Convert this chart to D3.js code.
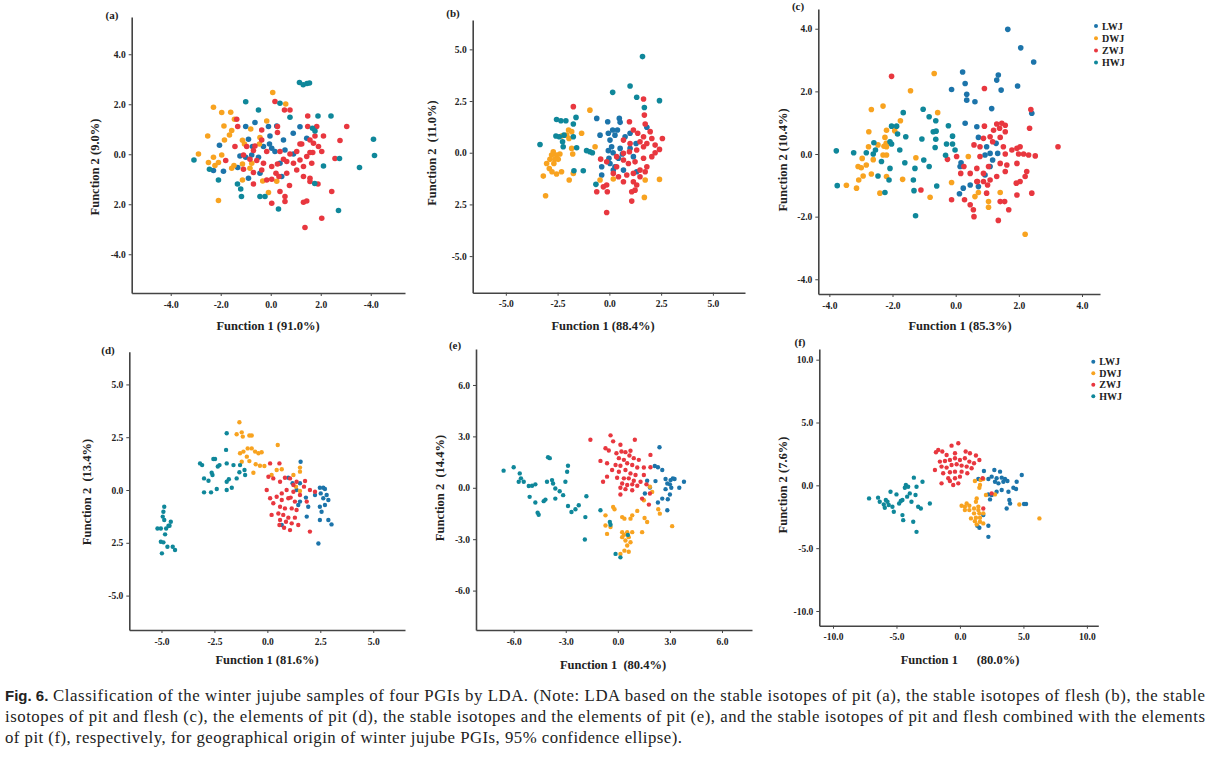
<!DOCTYPE html>
<html>
<head>
<meta charset="utf-8">
<script src="https://cdn.jsdelivr.net/npm/d3@7"></script>
<style>
  body { margin: 0; background: #fff; }
  svg text { fill: #222; }
</style>
</head>
<body>
<svg id="fig" width="1213" height="760"></svg>
<script>
// groups, legend order
var groups = ['LWJ', 'DWJ', 'ZWJ', 'HWJ']
var colors = {LWJ: '#1c74aa', DWJ: '#f8a320', ZWJ: '#e8373f', HWJ: '#0f879a'}

// ---- (a) stable isotopes of pit ----
var a_LWJ = [[-2.05,0.36],[-2.29,-0.65],[-1.89,-0.68],[-1.0,1.11],[-0.63,1.27],[-0.89,0.6],[-0.73,0.31],[-1.23,-0.07],[-1.0,-0.12],[-0.76,-0.03],[-0.49,-0.12],[-0.29,0.31],[-0.05,0.41],[0.04,0.24],[-0.03,0.73],[0.24,1.13],[-0.09,1.11],[0.51,0.57],[0.17,0.11],[0.37,-0.36],[0.57,0.17],[0.44,-0.89],[0.91,0.01],[-0.89,-0.96],[-1.32,-0.53],[-0.43,-0.76],[1.17,1.1],[0.9,0.84],[1.44,0.64]]
var a_DWJ = [[0.08,2.47],[0.6,2.01],[-2.29,1.88],[-1.96,1.67],[-1.6,1.68],[-1.45,1.4],[-1.87,1.13],[-2.52,0.73],[-1.56,0.95],[-1.65,0.77],[-0.8,1.01],[-0.43,0.67],[-0.16,1.33],[-0.45,0.41],[-1.85,0.57],[-1.13,0.56],[-1.05,0.41],[-2.89,0.01],[-2.29,-0.12],[-2.49,-0.33],[-2.09,-0.33],[-1.96,-0.03],[-2.23,-0.45],[-1.47,-0.45],[-1.13,-0.39],[-0.76,-0.36],[-2.09,-1.85],[-1.13,-1.03],[-0.32,-1.07],[-0.09,-1.53],[0.24,-1.08],[-1.56,-0.56],[-0.83,-0.56]]
var a_ZWJ = [[0.17,2.11],[0.55,1.77],[0.77,1.77],[1.48,1.53],[3.04,1.11],[1.84,1.11],[1.48,1.11],[1.77,0.73],[-1.36,1.4],[-1.32,1.11],[-0.36,0.97],[0.27,1.11],[0.27,0.87],[1.24,0.41],[1.57,0.57],[1.71,0.44],[2.04,0.11],[1.68,0.07],[1.04,0.11],[0.77,0.01],[0.51,-0.2],[0.37,0.11],[-0.16,0.11],[-0.36,0.57],[-0.63,0.33],[-0.69,0.15],[-0.96,0.31],[-1.43,0.31],[-1.09,-0.03],[-0.83,-0.2],[-0.56,-0.25],[-0.29,-0.36],[0.04,-0.49],[0.27,-0.39],[0.64,-0.29],[0.91,-0.36],[1.17,-0.23],[1.44,-0.09],[1.64,-0.36],[1.31,-0.49],[1.04,-0.63],[0.64,-0.76],[0.33,-0.89],[0.04,-1.0],[-0.16,-1.03],[0.21,-0.76],[-0.36,-0.63],[-0.69,-0.73],[-1.09,-0.6],[-1.8,-0.25],[-0.69,-1.19],[0.04,-1.96],[0.37,-1.49],[0.57,-1.69],[0.57,-1.89],[0.75,-1.25],[1.31,-0.89],[1.57,-0.96],[1.57,-1.09],[1.89,-1.19],[1.31,-1.92],[1.44,-1.87],[2.04,-2.56],[1.37,-2.93],[2.44,-1.49],[2.57,-0.17],[2.77,0.55],[2.11,0.73],[1.91,0.31],[1.57,0.07],[1.17,0.41]]
var a_HWJ = [[1.15,2.87],[1.3,2.78],[1.45,2.83],[1.55,2.85],[-1.0,2.1],[-0.49,1.77],[0.37,2.04],[0.77,1.48],[1.89,1.53],[2.41,1.53],[1.67,1.04],[1.77,0.93],[4.11,0.6],[4.15,-0.05],[3.55,-0.53],[2.75,-0.17],[2.11,-0.47],[2.71,-2.25],[1.76,-1.17],[0.31,-2.19],[-0.23,-1.69],[-0.43,-1.69],[-1.17,-1.69],[-1.33,-1.19],[-1.2,-1.39],[-2.09,-1.03],[-2.45,-0.6],[-3.07,-0.23]]

// ---- (b) stable isotopes of flesh ----
var b_LWJ = [[-0.61,1.66],[-0.08,1.5],[0.48,1.66],[0.52,1.47],[1.81,1.23],[-0.45,0.85],[-0.05,0.94],[0.16,1.1],[0.39,1.1],[0.27,0.85],[0.76,0.77],[1.0,0.94],[0.03,0.61],[0.11,0.29],[-0.05,0.1],[0.18,0.0],[0.52,0.21],[0.63,-0.06],[0.44,-0.27],[-0.02,-0.27],[0.03,-0.52],[0.27,-0.68],[0.19,-0.84],[-0.37,-0.68],[-0.37,-1.08],[0.68,-0.84],[1.29,0.45],[1.16,-0.19],[1.32,-0.92],[1.0,0.21]]
var b_DWJ = [[-0.94,2.06],[-1.97,1.1],[-1.82,1.02],[-1.34,0.94],[-2.06,0.85],[-1.95,0.69],[-2.31,0.81],[-2.71,0.05],[-2.55,-0.11],[-2.79,-0.11],[-2.63,-0.32],[-2.47,-0.32],[-2.87,-0.32],[-2.68,-0.52],[-3.03,-0.52],[-2.39,-0.06],[-1.77,-0.06],[-1.82,0.21],[-3.19,-1.13],[-2.9,-0.76],[-2.77,-0.92],[-2.55,-1.03],[-2.31,-0.92],[-1.94,-1.32],[-1.74,-1.0],[-3.08,-2.08],[-0.69,0.29],[-0.45,-1.32],[0.19,-1.27],[1.73,-1.32],[2.42,-1.29],[1.69,-2.16]]
var b_ZWJ = [[-1.74,2.23],[1.65,2.6],[0.97,1.5],[1.69,1.82],[1.73,1.39],[1.97,1.02],[1.16,1.1],[1.37,0.94],[1.65,0.77],[2.05,0.69],[2.56,0.69],[0.68,0.61],[1.0,0.45],[1.48,0.53],[1.81,0.45],[2.21,0.37],[2.42,0.16],[1.65,0.29],[1.32,0.13],[0.97,0.05],[0.68,-0.03],[0.35,-0.19],[-0.42,-0.31],[-0.13,-0.44],[0.68,-0.35],[0.92,-0.52],[1.24,-0.44],[1.65,-0.27],[2.05,-0.19],[2.21,0.0],[1.81,-0.68],[1.48,-0.84],[1.16,-1.0],[0.84,-1.08],[0.44,-1.16],[0.68,-1.4],[1.48,-1.16],[1.73,-0.92],[1.16,-1.4],[1.32,-1.56],[1.08,-1.89],[1.24,-1.81],[1.08,-2.34],[-0.13,-1.56],[-0.29,-1.65],[-0.61,-1.89],[-0.1,-1.89],[-0.13,-2.89],[0.19,-1.0],[0.35,-0.68]]
var b_HWJ = [[1.6,4.65],[1.0,3.23],[0.16,2.92],[1.32,2.68],[2.42,2.52],[1.69,2.19],[-2.55,1.61],[-2.34,1.55],[-2.1,1.55],[-1.61,1.71],[-1.74,1.39],[-2.58,0.81],[-2.42,0.77],[-2.19,0.85],[-1.74,0.77],[-2.26,0.53],[-2.23,0.29],[-3.35,0.4],[-1.58,0.24],[-1.1,0.1],[-0.94,0.05],[-0.82,0.0],[-1.71,-0.87],[-1.26,-0.87],[-0.65,-1.53]]

// ---- (c) stable isotopes of pit and flesh ----
var c_LWJ = [[1.65,3.98],[2.06,3.39],[2.47,2.94],[0.22,2.62],[1.35,2.52],[1.3,2.36],[1.44,2.04],[1.96,2.17],[0.3,2.25],[-0.13,2.06],[0.35,1.91],[0.35,1.72],[0.61,1.67],[1.14,1.45],[2.41,1.3],[0.3,0.98],[0.17,-0.28],[0.14,-0.4],[0.12,-1.27],[0.24,-1.09],[0.46,-0.99],[0.72,0.53],[0.98,0.23],[1.09,0.02],[0.93,-0.03],[1.33,0.02],[1.17,-0.19],[1.09,-0.4],[1.28,0.34],[0.93,-0.67],[0.72,-1.04],[0.67,0.87]]
var c_DWJ = [[-0.68,2.57],[-1.43,2.02],[-2.3,1.53],[-2.67,1.42],[-1.75,1.06],[-0.57,1.32],[-2.75,0.71],[-2.19,0.76],[-1.93,0.74],[-2.24,0.53],[-2.2,0.34],[-2.27,0.25],[-2.19,0.23],[-2.76,0.23],[-2.46,0.29],[-2.3,-0.03],[-2.19,-0.03],[-2.96,-0.14],[-2.83,-0.35],[-3.09,-0.4],[-2.99,-0.44],[-2.93,-0.7],[-3.07,-0.83],[-2.67,-0.64],[-2.19,-0.72],[-2.4,-1.25],[-3.14,-1.09],[-3.46,-1.0],[-2.61,-0.18],[-1.68,-0.81],[-1.26,-0.12],[-0.81,-1.38],[-0.13,-0.91],[0.4,-0.08],[0.61,-1.36],[0.72,-1.23],[1.04,-1.52],[1.04,-1.7],[1.41,-1.23],[2.2,-2.56]]
var c_ZWJ = [[-2.03,2.48],[0.91,2.09],[2.38,1.42],[2.34,0.82],[3.24,0.23],[0.91,0.89],[1.3,0.96],[1.46,0.98],[1.57,0.92],[1.39,0.82],[1.57,0.71],[1.2,0.76],[1.09,0.55],[0.88,0.5],[0.58,0.29],[0.77,0.23],[1.17,0.39],[1.41,0.53],[1.51,0.23],[1.78,0.13],[1.94,0.18],[2.04,0.23],[2.15,0.0],[2.31,-0.03],[2.52,-0.06],[1.99,0.0],[1.57,0.0],[1.41,-0.3],[1.62,-0.35],[1.94,-0.3],[2.25,-0.56],[2.2,-0.72],[2.04,-0.88],[1.92,-0.93],[1.57,-0.56],[1.3,-0.72],[1.09,-0.83],[0.88,-0.62],[0.67,-0.46],[0.46,-0.62],[0.16,-0.62],[0.26,-0.4],[0.03,-0.08],[-0.26,-0.17],[-0.13,-1.46],[0.28,-1.46],[0.46,-1.62],[0.56,-1.78],[0.58,-2.0],[0.67,-0.88],[0.88,-0.88],[0.98,-1.25],[1.41,-1.52],[1.55,-1.52],[1.68,-1.78],[1.35,-2.12],[1.94,-1.31],[2.41,-1.25],[1.01,-0.99],[0.69,-0.88],[-1.1,-1.15],[0.77,-0.08],[1.04,-0.4]]
var c_HWJ = [[-1.03,1.43],[-0.84,1.19],[-0.63,1.06],[-0.71,0.71],[-0.62,0.73],[-0.23,0.9],[-1.07,0.48],[-0.63,0.47],[-0.65,0.21],[-0.29,0.32],[-0.1,0.32],[-0.1,0.57],[-0.02,0.13],[-0.32,-0.04],[-1.01,-0.19],[-0.84,-0.4],[-1.66,1.32],[-2.03,0.89],[-1.87,0.89],[-1.84,0.64],[-1.58,0.55],[-2.08,0.39],[-2.03,0.32],[-1.77,0.13],[-1.61,-0.28],[-2.08,-0.46],[-2.35,-0.24],[-2.54,0.13],[-2.61,0.0],[-2.83,0.04],[-2.59,0.36],[-2.11,-0.83],[-2.46,-0.7],[-2.24,-1.23],[-3.23,0.04],[-3.78,0.1],[-3.75,-1.01],[-1.29,-0.46],[-1.34,-0.83],[-1.32,-1.17],[-1.27,-1.97],[-0.6,-1.02]]

// ---- (d) elements of pit ----
var d_LWJ = [[1.57,1.34],[0.99,0.58],[1.54,0.32],[1.38,0.0],[1.46,-0.71],[1.82,-0.36],[1.93,-0.79],[1.86,-1.26],[2.25,-0.24],[2.48,0.11],[2.64,0.11],[2.72,0.05],[2.52,-0.16],[2.64,-0.39],[2.8,-0.24],[2.88,-0.47],[2.72,-0.71],[2.48,-0.79],[2.56,-1.03],[2.88,-1.42],[3.03,-1.63],[2.48,-1.42],[2.41,-2.53],[0.68,-1.66],[1.54,-0.55],[1.19,0.32]]
var d_DWJ = [[-1.32,3.21],[-1.45,2.64],[-1.21,2.73],[-1.16,2.53],[-0.85,2.58],[-0.74,2.58],[0.49,2.13],[-1.29,1.74],[-1.13,1.82],[-0.93,1.97],[-0.74,1.97],[-0.58,1.82],[-0.42,1.74],[-0.27,1.79],[-0.97,1.58],[-0.85,1.37],[-1.21,1.34],[-0.55,1.22],[-0.35,1.15],[-0.14,1.14],[-0.66,0.82],[0.44,0.95],[0.68,0.98],[0.2,0.71],[1.54,1.06],[1.54,0.87],[1.23,0.71],[1.54,-0.05],[1.35,0.16]]
var d_ZWJ = [[0.13,1.26],[0.57,1.26],[0.05,0.63],[0.28,0.55],[0.6,0.39],[0.83,0.58],[1.07,0.55],[1.38,0.39],[1.78,0.43],[1.73,0.16],[2.01,0.0],[2.25,-0.08],[0.13,-0.39],[0.44,-0.32],[0.68,-0.16],[0.91,0.0],[1.23,-0.08],[1.54,-0.24],[0.68,-0.47],[0.99,-0.39],[1.3,-0.55],[0.28,-0.63],[0.6,-0.79],[0.83,-0.87],[1.15,-0.87],[0.2,-1.18],[0.52,-1.11],[0.75,-1.18],[0.99,-1.31],[1.3,-1.31],[0.6,-1.42],[0.88,-1.5],[1.15,-1.58],[1.46,-1.66],[0.79,-1.79],[1.07,-1.9],[0.57,-1.66],[2.01,-1.97],[1.23,0.24],[1.1,-0.36],[1.38,-0.95],[-0.03,0.0],[1.86,-0.55]]
var d_HWJ = [[-4.87,-0.79],[-4.91,-1.03],[-4.87,-1.42],[-4.56,-1.5],[-4.67,-1.69],[-5.19,-1.82],[-5.03,-1.82],[-4.78,-1.82],[-4.83,-2.1],[-5.03,-2.45],[-4.91,-2.48],[-4.72,-2.69],[-4.47,-2.69],[-4.36,-2.84],[-4.98,-3.0],[-4.62,-1.69],[-4.94,-1.26],[-3.18,1.26],[-3.08,1.18],[-2.55,1.47],[-2.47,1.47],[-2.34,1.11],[-2.26,1.18],[-1.92,1.26],[-1.95,1.9],[-1.92,2.69],[-1.6,1.18],[-1.29,1.18],[-2.99,0.55],[-2.78,0.44],[-2.59,0.71],[-2.63,0.82],[-2.99,-0.11],[-2.66,-0.11],[-2.39,0.05],[-1.92,0.39],[-1.82,0.51],[-1.92,0.0],[-1.68,0.11],[-1.45,0.55],[-1.32,0.84],[-1.05,0.71],[-1.08,0.95]]

// ---- (e) stable isotopes and elements of pit ----
var e_LWJ = [[2.4,2.37],[2.13,1.27],[2.31,1.2],[2.56,1.04],[2.17,0.39],[2.75,0.51],[2.85,0.25],[3.04,0.45],[3.17,0.55],[3.27,0.51],[3.0,0.2],[2.75,-0.08],[3.08,0.0],[3.81,0.35],[3.54,0.0],[2.56,-0.63],[2.88,-0.67],[2.31,-0.86],[2.85,-1.31],[1.69,0.41],[1.85,0.02],[1.56,-0.33],[3.0,-0.39]]
var e_DWJ = [[-0.27,-1.12],[-0.19,-1.25],[-0.71,-1.61],[-0.71,-2.2],[-0.42,-2.29],[-0.62,-2.69],[0.25,-1.71],[0.38,-1.8],[0.73,-1.8],[0.83,-1.61],[1.12,-1.35],[1.54,-1.76],[1.69,-2.0],[1.4,-2.59],[0.25,-2.59],[0.35,-2.75],[0.54,-2.59],[0.83,-2.59],[0.63,-2.88],[0.25,-2.88],[0.44,-3.08],[0.73,-3.18],[0.54,-3.37],[0.38,-3.67],[0.63,-3.73],[0.15,-3.86],[2.33,-1.25],[2.42,-1.51],[3.13,-2.24],[1.85,0.06],[1.98,-0.24],[1.5,-0.73]]
var e_ZWJ = [[-1.58,2.8],[-0.42,3.06],[0.98,2.8],[-0.27,2.71],[0.15,2.51],[-0.71,2.31],[-0.52,2.18],[-0.08,2.02],[0.21,2.12],[0.44,2.08],[0.73,2.16],[0.67,1.88],[0.06,1.73],[0.35,1.63],[0.92,1.73],[1.21,1.63],[1.88,1.92],[-1.0,1.57],[-0.62,1.43],[-0.13,1.33],[0.15,1.29],[0.54,1.43],[0.83,1.33],[1.12,1.18],[1.5,1.18],[1.88,1.2],[-0.33,1.04],[0.06,0.94],[0.44,1.04],[0.73,0.84],[1.02,0.75],[1.5,0.75],[-0.62,0.65],[-0.04,0.59],[0.35,0.55],[0.63,0.55],[0.92,0.41],[1.31,0.35],[-0.85,0.35],[0.25,0.25],[0.54,0.16],[0.83,0.2],[1.12,0.12],[0.15,0.0],[0.44,-0.08],[0.83,-0.14],[0.15,-0.39],[1.4,-0.63],[1.79,-0.98],[1.85,-0.33],[1.65,0.2]]
var e_HWJ = [[-6.58,1.0],[-6.0,1.2],[-5.65,0.84],[-5.58,0.55],[-5.71,0.35],[-5.42,0.35],[-5.13,0.1],[-4.94,0.12],[-4.75,0.2],[-5.08,-0.53],[-4.75,-0.86],[-4.62,-1.45],[-4.56,-1.57],[-4.27,-0.78],[-4.17,-0.69],[-4.08,0.35],[-4.02,1.78],[-3.92,1.73],[-3.79,0.45],[-3.73,0.25],[-3.6,-0.04],[-3.6,-0.63],[-3.35,-0.2],[-3.15,-0.43],[-3.02,0.35],[-2.92,0.94],[-2.87,1.29],[-2.87,-1.06],[-2.67,-1.41],[-2.44,-1.25],[-2.25,-1.02],[-1.81,-0.49],[-1.87,-1.71],[-1.9,-3.02],[-1.0,-1.31],[-0.46,-2.0],[-0.13,-3.86],[0.15,-4.06],[0.58,-2.75],[-0.42,-2.16]]

// ---- (f) isotopes of pit and flesh + elements of pit ----
var f_LWJ = [[1.89,1.14],[2.71,1.22],[3.16,1.09],[2.5,0.69],[2.89,0.56],[3.29,0.61],[3.55,0.51],[3.74,0.35],[3.42,0.29],[3.03,0.16],[2.76,0.29],[2.24,0.51],[1.45,0.51],[4.47,0.29],[4.87,0.82],[4.21,-0.19],[4.42,-0.29],[3.82,-0.51],[3.29,-0.37],[2.89,-0.51],[2.5,-0.77],[2.24,-0.72],[2.37,-1.12],[3.89,-1.17],[3.95,-1.44],[3.68,-1.84],[5.05,-1.49],[5.21,-1.49],[1.37,-3.22],[1.53,-3.38],[2.24,-3.22],[2.24,-4.1],[1.84,-2.37]]
var f_DWJ = [[1.18,0.35],[1.63,0.43],[1.84,0.51],[1.58,0.03],[1.53,-0.19],[2.05,-0.77],[1.32,-1.04],[1.26,-1.3],[0.53,-1.44],[0.13,-1.62],[0.39,-1.7],[0.74,-1.62],[1.45,-1.7],[0.39,-1.97],[0.74,-1.97],[1.11,-1.84],[1.45,-1.97],[1.11,-2.23],[1.53,-2.23],[1.84,-2.23],[0.87,-2.63],[1.26,-2.58],[1.58,-2.58],[1.18,-2.85],[1.58,-2.9],[1.32,-3.11],[1.84,-3.03],[2.76,-0.72],[4.68,-1.52],[6.26,-2.63]]
var f_ZWJ = [[-1.71,2.82],[-1.89,2.63],[-1.39,2.69],[-0.66,3.16],[-0.13,3.35],[-1.05,2.42],[-0.39,2.55],[0.45,2.69],[0.79,2.55],[1.26,2.37],[1.53,2.02],[-1.58,1.89],[-1.18,1.94],[-0.79,2.02],[-0.39,2.15],[0.0,2.02],[0.39,2.15],[0.74,1.89],[1.11,1.76],[-1.97,1.22],[-1.45,1.49],[-1.05,1.41],[-0.66,1.62],[-0.26,1.68],[0.13,1.57],[0.53,1.49],[0.92,1.36],[-1.32,0.96],[-0.79,1.04],[-0.39,1.09],[0.13,1.09],[0.58,0.96],[-0.92,0.56],[-0.39,0.56],[0.0,0.69],[-1.45,0.16],[-0.53,0.03],[-0.13,0.16],[-0.79,0.35],[1.79,0.56],[2.5,-0.64],[1.84,-1.84]]
var f_HWJ = [[-7.16,-1.04],[-6.45,-0.98],[-6.32,-1.3],[-6.0,-1.52],[-5.84,-1.17],[-5.71,-1.3],[-5.61,-1.57],[-5.92,-1.78],[-5.47,-0.51],[-5.32,-1.7],[-5.21,-2.1],[-5.0,-0.72],[-4.79,-1.44],[-4.66,-1.25],[-4.53,-2.37],[-4.47,-2.77],[-4.34,-0.19],[-4.26,0.03],[-4.08,-0.11],[-3.95,-0.64],[-4.16,-0.9],[-3.82,-1.3],[-3.68,-2.9],[-3.63,0.61],[-3.5,-0.77],[-3.42,-3.7],[-3.29,-1.7],[-3.08,-1.84],[-2.95,0.29],[-2.37,-1.44],[-3.42,-0.11],[-4.53,-1.17]]

// tick values and the labels as printed in the figure
var ticks2 = [-4, -2, 0, 2, 4]
var ticks25 = [-5, -2.5, 0, 2.5, 5]
var ticks3 = [-6, -3, 0, 3, 6]
var ticks5 = [-10, -5, 0, 5, 10]

// panel layout (pixels) + texts
var panels = [
    {id: '(a)', data: [a_LWJ, a_DWJ, a_ZWJ, a_HWJ], r: 2.8,
     box: [131.7, 405, 17, 293], xDomain: [-5.56, 5.37], yDomain: [-5.55, 5.49],
     xTicks: ticks2, xLabels: ['-4.0', '-2.0', '0.0', '2.0', '-4.0'],
     yTicks: ticks2, yLabels: ['-4.0', '2.0', '0.0', '2.0', '4.0'],
     xTitle: 'Function 1 (91.0%)', yTitle: 'Function 2 (9.0%)',
     xTitlePos: [268, 330], yTitlePos: [99, 167], idPos: [112, 19]},
    {id: '(b)', data: [b_LWJ, b_DWJ, b_ZWJ, b_HWJ], r: 2.8,
     box: [472.7, 745, 20, 292.7], xDomain: [-6.6, 6.55], yDomain: [-6.77, 6.42],
     xTicks: ticks25, xLabels: ['-5.0', '-2.5', '0.0', '2.5', '5.0'],
     yTicks: ticks25, yLabels: ['-5.0', '2.5', '0.0', '2.5', '5.0'],
     xTitle: 'Function 1 (88.4%)', yTitle: 'Function 2\u2002(11.0%)',
     xTitlePos: [603, 330], yTitlePos: [436, 153], idPos: [453, 17]},
    {id: '(c)', data: [c_LWJ, c_DWJ, c_ZWJ, c_HWJ], r: 2.8,
     box: [818.3, 1100, 9, 294], xDomain: [-4.35, 4.57], yDomain: [-4.47, 4.63],
     xTicks: ticks2, xLabels: ['-4.0', '-2.0', '0.0', '2.0', '4.0'],
     yTicks: ticks2, yLabels: ['-4.0', '-2.0', '0.0', '2.0', '4.0'],
     xTitle: 'Function 1 (85.3%)', yTitle: 'Function 2 (10.4%)',
     xTitlePos: [960, 330], yTitlePos: [787, 160], idPos: [798, 10],
     legend: [1096, 26, 12.2]},
    {id: '(d)', data: [d_LWJ, d_DWJ, d_ZWJ, d_HWJ], r: 2.2,
     box: [129.3, 405, 351.7, 630], xDomain: [-6.52, 6.5], yDomain: [-6.63, 6.55],
     xTicks: ticks25, xLabels: ['-5.0', '-2.5', '0.0', '2.5', '5.0'],
     yTicks: ticks25, yLabels: ['-5.0', '2.5', '0.0', '2.5', '5.0'],
     xTitle: 'Function 1 (81.6%)', yTitle: 'Function 2\u2002(13.4%)',
     xTitlePos: [267, 664], yTitlePos: [91, 492], idPos: [108, 354]},
    {id: '(e)', data: [e_LWJ, e_DWJ, e_ZWJ, e_HWJ], r: 2.2,
     box: [476, 752, 349, 630], xDomain: [-8.17, 7.73], yDomain: [-8.3, 8.1],
     xTicks: ticks3, xLabels: ['-6.0', '-3.0', '0.0', '3.0', '6.0'],
     yTicks: ticks3, yLabels: ['-6.0', '-3.0', '0.0', '3.0', '6.0'],
     xTitle: 'Function 1\u2002(80.4%)', yTitle: 'Function 2\u2002(14.4%)',
     xTitlePos: [613, 669], yTitlePos: [444, 488], idPos: [455, 349]},
    {id: '(f)', data: [f_LWJ, f_DWJ, f_ZWJ, f_HWJ], r: 2.2,
     box: [819.3, 1098.3, 349, 625.7], xDomain: [-11.08, 10.9], yDomain: [-11.17, 10.85],
     xTicks: ticks5, xLabels: ['-10.0', '-5.0', '0.0', '5.0', '10.0'],
     yTicks: ticks5, yLabels: ['-10.0', '-5.0', '0.0', '5.0', '10.0'],
     xTitle: 'Function 1\u2003\u2002(80.0%)', yTitle: 'Function 2 (7.6%)',
     xTitlePos: [960, 664], yTitlePos: [787, 485], idPos: [800, 346],
     legend: [1093.3, 361.7, 11.5]}
]

var serif = '"Liberation Serif", "Times New Roman", serif'
var svg = d3.select('#fig')

panels.forEach(function(p) {
    var x = d3.scaleLinear().domain(p.xDomain).range([p.box[0], p.box[1]]),
        y = d3.scaleLinear().domain(p.yDomain).range([p.box[3], p.box[2]]),
        g = svg.append('g')

    var xAxis = g.append('g')
        .attr('transform', 'translate(0,' + p.box[3] + ')')
        .call(d3.axisBottom(x).tickValues(p.xTicks)
            .tickFormat(function(d, i) { return p.xLabels[i] })
            .tickSize(3).tickSizeOuter(0).tickPadding(5))
    var yAxis = g.append('g')
        .attr('transform', 'translate(' + p.box[0] + ',0)')
        .call(d3.axisLeft(y).tickValues(p.yTicks)
            .tickFormat(function(d, i) { return p.yLabels[i] })
            .tickSize(3).tickSizeOuter(0).tickPadding(3))

    ;[xAxis, yAxis].forEach(function(ax) {
        ax.select('.domain').attr('stroke', '#444').attr('stroke-width', 1.6)
        ax.selectAll('.tick line').attr('stroke', '#444').attr('stroke-width', 1)
        ax.selectAll('.tick text')
            .attr('font-family', serif).attr('font-weight', 'bold')
            .attr('font-size', 9.5).attr('fill', '#333')
    })

    groups.forEach(function(name, k) {
        g.append('g').selectAll('circle')
            .data(p.data[k])
            .join('circle')
            .attr('cx', function(d) { return x(d[0]) })
            .attr('cy', function(d) { return y(d[1]) })
            .attr('r', p.r)
            .attr('fill', colors[name])
    })

    g.append('text')
        .attr('x', p.xTitlePos[0]).attr('y', p.xTitlePos[1])
        .attr('text-anchor', 'middle')
        .attr('font-family', serif).attr('font-weight', 'bold').attr('font-size', 12.5)
        .text(p.xTitle)
    g.append('text')
        .attr('transform', 'translate(' + p.yTitlePos[0] + ',' + p.yTitlePos[1] + ') rotate(-90)')
        .attr('text-anchor', 'middle')
        .attr('font-family', serif).attr('font-weight', 'bold').attr('font-size', 12.5)
        .text(p.yTitle)
    g.append('text')
        .attr('x', p.idPos[0]).attr('y', p.idPos[1])
        .attr('text-anchor', 'middle')
        .attr('font-family', serif).attr('font-weight', 'bold').attr('font-size', 11)
        .text(p.id)

    if (p.legend) {
        var lg = g.append('g').selectAll('g')
            .data(groups)
            .join('g')
            .attr('transform', function(d, i) {
                return 'translate(' + p.legend[0] + ',' + (p.legend[1] + i * p.legend[2]) + ')'
            })
        lg.append('circle').attr('r', 2).attr('fill', function(d) { return colors[d] })
        lg.append('text')
            .attr('x', 6).attr('y', 3.5)
            .attr('font-family', serif).attr('font-weight', 'bold').attr('font-size', 10)
            .attr('fill', '#333')
            .text(function(d) { return d })
    }
})

// caption
var capLines = [
    'Classification of the winter jujube samples of four PGIs by LDA. (Note: LDA based on the stable isotopes of pit (a), the stable isotopes of flesh (b), the stable',
    'isotopes of pit and flesh (c), the elements of pit (d), the stable isotopes and the elements of pit (e), and the stable isotopes of pit and flesh combined with the elements',
    'of pit (f), respectively, for geographical origin of winter jujube PGIs, 95% confidence ellipse).'
]
svg.append('text')
    .attr('x', 5).attr('y', 701)
    .attr('font-family', '"Liberation Sans", Arial, sans-serif')
    .attr('font-weight', 'bold').attr('font-size', 15)
    .attr('fill', '#111')
    .text('Fig. 6.')
var capX = [53, 5, 5], capW = [1152, 1200, 677]
capLines.forEach(function(line, i) {
    svg.append('text')
        .attr('x', capX[i]).attr('y', 701 + i * 20.8)
        .attr('font-family', serif).attr('font-size', 16.8)
        .attr('fill', '#111')
        .attr('textLength', capW[i]).attr('lengthAdjust', 'spacing')
        .text(line)
})
</script>
</body>
</html>
